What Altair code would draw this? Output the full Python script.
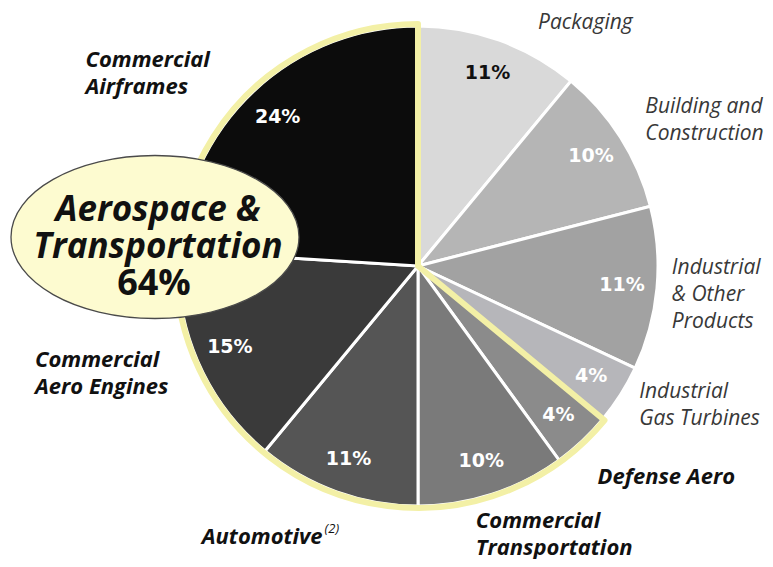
import altair as alt
import pandas as pd

# ---- data ----
segments = ["Packaging", "Building and Construction", "Industrial & Other Products",
            "Industrial Gas Turbines", "Defense Aero", "Commercial Transportation",
            "Automotive", "Commercial Aero Engines", "Commercial Airframes"]
shares = [11, 10, 11, 4, 4, 10, 11, 15, 24]
groups = ["Other", "Other", "Other", "Other",
          "Aerospace", "Aerospace", "Aerospace", "Aerospace", "Aerospace"]
label_lines = ["Packaging", "Building and\nConstruction", "Industrial\n& Other\nProducts",
               "Industrial\nGas Turbines", "Defense Aero", "Commercial\nTransportation",
               "Automotive", "Commercial\nAero Engines", "Commercial\nAirframes"]
group_names = ["Other Markets", "Aerospace &\nTransportation"]
group_shares = [36, 64]
footnote = "(2)"

# ---- styles ----
shades = ["#d9d9d9", "#b5b5b5", "#a2a2a2", "#b6b6ba", "#8b8b8b",
          "#7a7a7a", "#555555", "#3a3a3a", "#0c0c0c"]
YELLOW = "#f3f0a6"
FONT = "Open Sans"

df = pd.DataFrame({"segment": segments, "share": shares, "group": groups,
                   "label": label_lines, "idx": list(range(len(segments)))})
df["pct"] = [f"{s}%" for s in shares]
df["mid"] = df["share"].cumsum() - df["share"] / 2

gdf = pd.DataFrame({"group": group_names, "share": group_shares, "gidx": [0, 1]})

theta_scale = alt.Scale(domain=[0, 100])
R = 240

pie = alt.Chart(df).mark_arc(radius=R, stroke="white", strokeWidth=3).encode(
    theta=alt.Theta("share:Q", stack=True, scale=theta_scale),
    order=alt.Order("idx:Q"),
    color=alt.Color("segment:N", scale=alt.Scale(domain=segments, range=shades), legend=None),
)

outline = alt.Chart(gdf).mark_arc(radius=R + 2, fillOpacity=0, strokeWidth=6,
                                  strokeJoin="round").encode(
    theta=alt.Theta("share:Q", stack=True, scale=theta_scale),
    order=alt.Order("gidx:Q"),
    stroke=alt.condition(alt.datum.gidx == 1, alt.value(YELLOW), alt.value("transparent")),
)

pct = alt.Chart(df).mark_text(radius=205, fontSize=19, fontWeight="bold", font="DejaVu Sans",
                              baseline="middle").encode(
    theta=alt.Theta("mid:Q", stack=None, scale=theta_scale),
    text="pct:N",
    color=alt.condition(alt.datum.segment == "Packaging", alt.value("#111111"), alt.value("white")),
)

# label nudges: (align, dx, dy, lineHeight) -- dy places the first line
layout = {
    "Packaging": ("center", 81, -3, 27),
    "Building and Construction": ("left", 12, -22, 27),
    "Industrial & Other Products": ("left", 0, -22, 27),
    "Industrial Gas Turbines": ("left", 6, -11, 27),
    "Defense Aero": ("left", 5, 25, 27),
    "Commercial Transportation": ("left", -21, 12, 27),
    "Automotive": ("right", -9, 31, 27),
    "Commercial Aero Engines": ("left", -149, -7, 27),
    "Commercial Airframes": ("left", -158, -20, 27),
}

labels = []
for seg, grp in zip(segments, groups):
    align, dx, dy, lh = layout[seg]
    aero = grp == "Aerospace"
    labels.append(
        alt.Chart(df).transform_filter(alt.datum.segment == seg).mark_text(
            radius=255, align=align, baseline="middle", dx=dx, dy=dy,
            lineBreak="\n", lineHeight=lh, fontSize=22 if aero else 21, font=FONT,
            fontStyle="italic",
            fontWeight="bold" if aero else "normal",
            color="#111111" if aero else "#383838",
        ).encode(
            theta=alt.Theta("mid:Q", stack=None, scale=theta_scale),
            text="label:N",
        )
    )

sup = alt.Chart(df).transform_filter(alt.datum.segment == "Automotive").mark_text(
    radius=255, align="left", baseline="middle", dx=-7, dy=23,
    fontSize=13, font=FONT, fontStyle="italic", color="#111111",
).encode(
    theta=alt.Theta("mid:Q", stack=None, scale=theta_scale),
    text=alt.value(footnote),
)

ellipse_path = ("M -1 0 C -1 -0.3126 -0.5523 -0.566 0 -0.566 "
                "C 0.5523 -0.566 1 -0.3126 1 0 "
                "C 1 0.3126 0.5523 0.566 0 0.566 "
                "C -0.5523 0.566 -1 0.3126 -1 0 Z")

aero_g = alt.Chart(gdf).transform_filter(alt.datum.gidx == 1)

ellipse = aero_g.mark_point(shape=ellipse_path, size=288 * 288, filled=True,
                            fill="#fdfbd0", stroke="#4a4a4a", strokeWidth=1.3,
                            opacity=1, fillOpacity=1).encode(
    x=alt.value(-23), y=alt.value(211))

ell_title = aero_g.mark_text(fontSize=35, font=FONT, fontWeight="bold", fontStyle="italic",
                             lineBreak="\n", lineHeight=37, align="center",
                             baseline="middle", color="#111111").encode(
    x=alt.value(-20), y=alt.value(184), text="group:N")

ell_pct = aero_g.transform_calculate(p="datum.share + '%'").mark_text(
    fontSize=36, font=FONT, fontWeight="bold", align="center", baseline="middle",
    color="#111111").encode(x=alt.value(-24), y=alt.value(258), text="p:N")

chart = alt.layer(pie, outline, pct, *labels, sup, ellipse, ell_title, ell_pct).properties(
    width=2 * R, height=2 * R,
    autosize=alt.AutoSizeParams(type="none"),
    padding={"left": 170, "top": 18, "right": 107, "bottom": 53},
    background="white",
).configure_view(stroke=None)

chart.save("out.html", embed_options={"renderer": "svg", "actions": False})
